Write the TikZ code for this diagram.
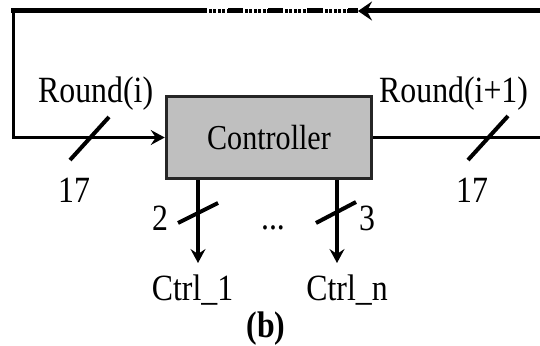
\documentclass[tikz,border=0pt]{standalone}
\usepackage{fontspec}
\setmainfont[FakeStretch=0.86]{Liberation Serif}
\usetikzlibrary{arrows.meta}
\begin{document}
\begin{tikzpicture}[x=1pt,y=-1pt,
  lbl/.style={inner sep=0pt,font=\fontsize{37}{40}\selectfont},
  ctrlbox/.style={draw=black!85,line width=3.5pt,fill=black!25,minimum width=205pt,minimum height=82pt,inner sep=0pt,font=\fontsize{35}{38}\selectfont},
  wire/.style={line width=3.2pt},
  topwire/.style={line width=5pt},
  tipin/.style={-{Stealth[length=14pt,width=15pt,inset=5pt]}},
  tiptop/.style={-{Stealth[length=14pt,width=19pt,inset=5pt]}},
  slash/.style={line width=4pt}]
\useasboundingbox (0,0) rectangle (540,345);
% controller box
\node[ctrlbox] (ctrl) at (269,137.5) {Controller};
% loop coordinates
\coordinate (tr) at (541,11);
\coordinate (midtop) at (358,11);
\coordinate (tl) at (13.5,11);
\coordinate (bl) at (13.5,137.5);
\coordinate (rend) at (541,137.5);
\coordinate (d1) at (198,263);
\coordinate (d2) at (337,263);
% top feedback line
\draw[topwire,tiptop] (tr) -- (midtop);
\draw[topwire] (midtop) -- ([xshift=-2.5pt]tl);
% dotted parts of the top line: thin white gaps cut into the line
\foreach \a/\b in {207/228,243/268,283/307,323/348}{
  \draw[white,line width=7pt,dash pattern=on 1.5pt off 3pt] (\a,11) -- (\b,11);
  \fill[white] (\a,8) rectangle (\b,8.8);
  \fill[white] (\a,13.2) rectangle (\b,14);
}
% left return into controller
\draw[wire,tipin] (tl) -- (bl) -- (ctrl.west);
% output to the right
\draw[wire] (ctrl.east) -- (rend);
% control outputs
\draw[wire,tipin] (ctrl.south -| d1) -- (d1);
\draw[wire,tipin] (ctrl.south -| d2) -- (d2);
% bus slashes
\draw[slash] (70,160) -- (109,117);
\draw[slash] (468,160) -- (508,116);
\draw[slash] (178,223) -- (218,203);
\draw[slash] (316,223) -- (356,202);
% labels
\node[lbl,anchor=base west] (ri) at (38,102) {Round(i)};
\node[lbl,anchor=base west] (ri1) at (379,102) {Round(i+1)};
\node[lbl,anchor=base] (w1) at (74,202) {17};
\node[lbl,anchor=base] (w2) at (472,202) {17};
\node[lbl,anchor=base] (w3) at (160,230) {2};
\node[lbl,anchor=base] (w4) at (367,230) {3};
\node[lbl,anchor=base] (dots) at (273,229) {...};
\node[lbl,anchor=base] (c1) at (192.5,300) {Ctrl\_1};
\node[lbl,anchor=base] (cn) at (347,300) {Ctrl\_n};
\node[lbl,anchor=base,font=\fontsize{37}{40}\selectfont\bfseries] (cap) at (266,337) {(b)};
\end{tikzpicture}
\end{document}
